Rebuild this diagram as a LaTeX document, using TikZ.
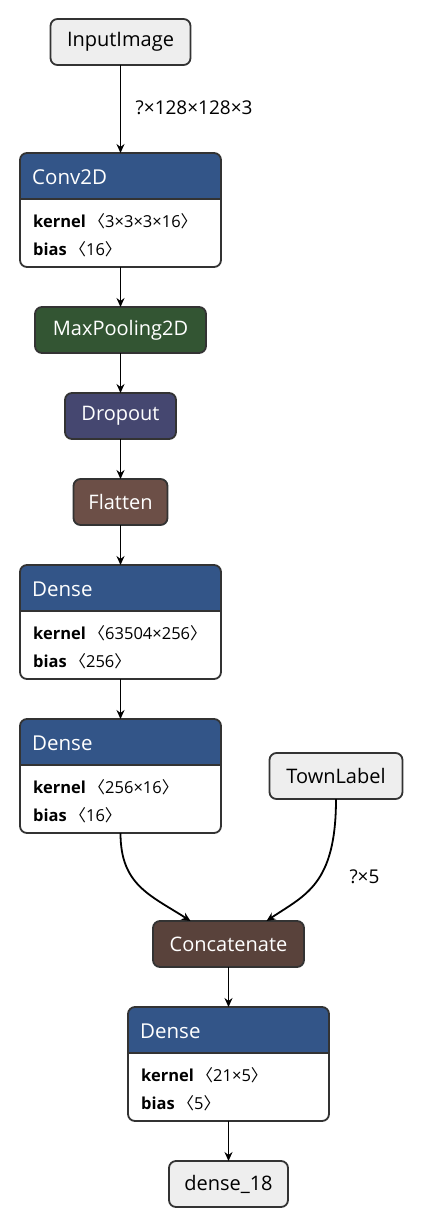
\documentclass[tikz,border=0pt]{standalone}
\usepackage{fontspec}
\setmainfont{Open Sans}
\newfontfamily\cjk{Noto Sans CJK SC}
\usepackage{tikz}
\usetikzlibrary{arrows.meta,positioning}
\definecolor{layerblue}{RGB}{51,85,136}
\definecolor{poolgreen}{RGB}{51,85,51}
\definecolor{dropblue}{RGB}{69,71,112}
\definecolor{shapebrown}{RGB}{108,79,71}
\definecolor{tensorbrown}{RGB}{89,66,59}
\definecolor{iogray}{RGB}{238,238,238}
\definecolor{edge}{RGB}{51,51,51}
\tikzstyle{arrow} = [-{Stealth[length=9pt,width=8pt,inset=3pt]},line width=1.8pt]
\tikzstyle{io} = [draw=edge,line width=1.8pt,fill=iogray,rounded corners=7pt,minimum height=46pt,inner sep=0pt,outer sep=0pt,font=\fontsize{20}{24}\selectfont]
\tikzstyle{op} = [draw=edge,line width=1.8pt,rounded corners=7pt,minimum height=46pt,inner sep=0pt,outer sep=0pt,text=white,font=\fontsize{20}{24}\selectfont]
\tikzstyle{blk} = [fill=white,minimum width=201pt,minimum height=114pt,inner sep=0pt,outer sep=0pt]
\tikzstyle{elabel} = [font=\fontsize{19}{23}\selectfont,anchor=west]
\newcommand{\br}[1]{{\cjk 〈}#1{\cjk 〉}}
% layer with header and kernel/bias
\newcommand{\layer}[6]{%
  \node[blk,anchor=north west] (#1) at (#2,#3) {};
  \begin{scope}
    \clip[rounded corners=7pt] (#1.north west) rectangle (#1.south east);
    \fill[layerblue] (#1.north west) rectangle ([yshift=-46pt]#1.north east);
  \end{scope}
  \draw[edge,line width=1.8pt,rounded corners=7pt] (#1.north west) rectangle (#1.south east);
  \draw[edge,line width=1.8pt] ([yshift=-46pt]#1.north west) -- ([yshift=-46pt]#1.north east);
  \node[anchor=west,text=white,inner sep=0pt,font=\fontsize{20.5}{24}\selectfont] (#1t) at ([xshift=12pt,yshift=-24pt]#1.north west) {#4};
  \node[anchor=west,inner sep=0pt,font=\fontsize{16.5}{20}\selectfont] (#1k) at ([xshift=13pt,yshift=-68pt]#1.north west) {\textbf{kernel}\,\br{#5}};
  \node[anchor=west,inner sep=0pt,font=\fontsize{16.5}{20}\selectfont] (#1b) at ([xshift=13pt,yshift=-96pt]#1.north west) {\textbf{bias}\,\br{#6}};
}

\begin{document}
\begin{tikzpicture}[x=1pt,y=-1pt]
  \useasboundingbox (0,0) rectangle (422,1228);
  \node[io,minimum width=140pt] (inp) at (120.5,42) {InputImage};
  \layer{conv}{20}{153}{Conv2D}{3×3×3×16}{16}
  \node[op,fill=poolgreen,minimum width=171pt] (pool) at (120.5,330) {MaxPooling2D};
  \node[op,fill=dropblue,minimum width=111pt] (drop) at (120.5,416) {Dropout};
  \node[op,fill=shapebrown,minimum width=94pt] (flat) at (120.5,502) {Flatten};
  \layer{dense}{20}{565}{Dense}{63504×256}{256}
  \layer{densea}{20}{719}{Dense}{256×16}{16}
  \node[io,minimum width=133pt] (town) at (336,776) {TownLabel};
  \node[op,fill=tensorbrown,minimum width=151pt] (cat) at (228.5,944) {Concatenate};
  \layer{denseb}{128}{1007}{Dense}{21×5}{5}
  \node[io,minimum width=119pt] (out) at (228.5,1184) {dense\_18};

  \draw[arrow](inp)--(conv.north)node[midway,elabel,xshift=11pt,yshift=1pt]{?×128×128×3};
  \draw[arrow](conv.south)--(pool);
  \draw[arrow](pool)--(drop);
  \draw[arrow](drop)--(flat);
  \draw[arrow](flat)--(dense.north);
  \draw[arrow](dense.south)--(densea.north);
  \draw[arrow](densea.south)..controls(120.5,885)and(150,895)..([xshift=-38pt]cat.north);
  \draw[arrow](town)..controls(336,885)and(305,895)..([xshift=38pt]cat.north);
  \node[elabel] (tlab) at (346,877) {?×5};
  \draw[arrow](cat)--(denseb.north);
  \draw[arrow](denseb.south)--(out);
\end{tikzpicture}
\end{document}
